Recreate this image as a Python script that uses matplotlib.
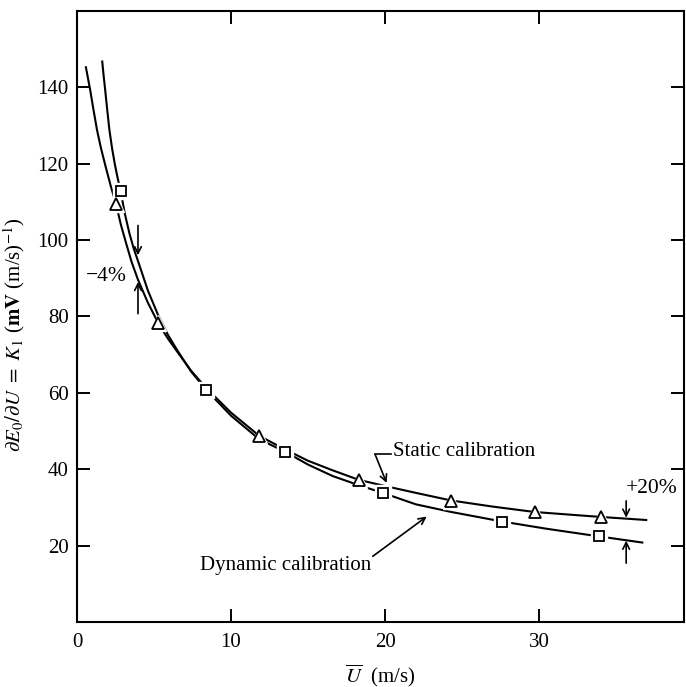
import matplotlib
matplotlib.use("Agg")
import matplotlib.pyplot as plt

plt.rcParams['font.family'] = ['Liberation Serif', 'DejaVu Serif']
plt.rcParams['mathtext.fontset'] = 'stix'

# measured points
static_u = [2.53, 5.28, 11.84, 18.3, 24.3, 29.7, 34.0]
static_k = [109.5, 78.2, 48.7, 37.2, 31.8, 28.8, 27.5]
dynamic_u = [2.84, 8.38, 13.5, 19.85, 27.6, 33.9]
dynamic_k = [112.7, 60.8, 44.6, 33.8, 26.3, 22.4]

# faired curves
static_curve_u = [0.58, 0.72, 0.86, 1.05, 1.3, 1.56, 1.86, 2.2, 2.53, 2.85, 3.2, 3.55, 3.96, 4.6,
                  5.28, 5.9, 6.5, 7.4, 8.4, 10.0, 11.84, 13.5, 15.0, 16.6, 18.3, 20.1, 22.0,
                  24.3, 27.0, 29.7, 32.0, 34.0, 36.95]
static_curve_k = [145.2, 142.2, 139.2, 134.6, 128.8, 124.0, 119.2, 114.0, 109.5, 104.0, 99.0, 94.2,
                  89.6, 83.6, 78.2, 74.2, 70.8, 65.8, 61.2, 54.8, 48.7, 45.2, 42.2, 39.7, 37.2,
                  35.5, 33.8, 31.8, 30.2, 28.8, 28.1, 27.5, 26.7]
dynamic_curve_u = [1.64, 1.73, 1.82, 1.96, 2.1, 2.27, 2.45, 2.64, 2.84, 3.1, 3.4, 3.68, 3.96, 4.6,
                   5.28, 5.9, 6.5, 7.4, 8.38, 10.0, 11.84, 13.5, 15.0, 16.6, 18.3, 19.85, 22.0,
                   24.3, 27.6, 30.5, 33.9, 36.7]
dynamic_curve_k = [146.7, 143.0, 139.7, 134.2, 129.0, 124.2, 120.0, 116.2, 112.7, 107.0, 101.8, 97.8,
                   94.5, 86.8, 80.2, 75.2, 71.2, 65.6, 60.8, 54.0, 47.8, 44.6, 41.2, 38.2, 35.8,
                   33.8, 30.8, 28.8, 26.3, 24.4, 22.4, 20.8]

fig = plt.figure(figsize=(6.86, 6.87), dpi=100)
ax = fig.add_axes([0.1122, 0.0946, 0.8848, 0.8898])

ax.plot(static_curve_u, static_curve_k, color='black', lw=1.5, zorder=2)
ax.plot(dynamic_curve_u, dynamic_curve_k, color='black', lw=1.5, zorder=2)

# white halo so the curves break around the symbols
ax.plot(static_u, static_k, ls='none', marker='^', ms=12, color='white', zorder=3)
ax.plot(dynamic_u, dynamic_k, ls='none', marker='s', ms=11, color='white', zorder=3)
ax.plot(static_u, static_k, ls='none', marker='^', ms=8, mfc='white', mec='black', mew=1.3, zorder=4)
ax.plot(dynamic_u, dynamic_k, ls='none', marker='s', ms=7.5, mfc='white', mec='black', mew=1.3, zorder=4)

ax.set_xlim(0, 39.4)
ax.set_ylim(0, 160)
ax.set_xticks([0, 10, 20, 30])
ax.set_yticks([20, 40, 60, 80, 100, 120, 140])
ax.tick_params(direction='in', length=9.5, width=1.4, labelsize=15, top=True, right=True)
ax.tick_params(axis='x', pad=8)
ax.tick_params(axis='y', pad=6)
for s in ax.spines.values():
    s.set_linewidth(1.5)

ax.set_xlabel(r'$\overline{U}$  (m/s)', fontsize=15)
ax.xaxis.set_label_coords(0.5, -0.066)
ax.set_ylabel(r'$\partial E_0/\partial U\ =\ \boldsymbol{K_1}$ ($\mathbf{mV}$ (m/s)$^{-1}$)', fontsize=15)
ax.yaxis.set_label_coords(-0.083, 0.47)

arr = dict(arrowstyle='->', lw=1.2, color='black', mutation_scale=12, shrinkA=0, shrinkB=0)

# -4 % bracket
ax.annotate('', xy=(3.96, 96.0), xytext=(3.96, 103.8), arrowprops=arr)
ax.annotate('', xy=(3.96, 89.0), xytext=(3.96, 80.7), arrowprops=arr)
ax.text(1.88, 90.5, '\u22124%', fontsize=15.5, ha='center', va='center')

# +20 % bracket
ax.annotate('', xy=(35.65, 27.3), xytext=(35.65, 31.7), arrowprops=arr)
ax.annotate('', xy=(35.65, 21.3), xytext=(35.65, 15.4), arrowprops=arr)
ax.text(37.3, 35.0, '+20%', fontsize=15.5, ha='center', va='center')

# labels
ax.text(20.5, 44.6, 'Static calibration', fontsize=15, ha='left', va='center')
ax.plot([19.35, 20.4], [43.9, 43.9], color='black', lw=1.2)
ax.annotate('', xy=(20.1, 36.4), xytext=(19.35, 43.9), arrowprops=arr)
ax.text(19.1, 14.8, 'Dynamic calibration', fontsize=15, ha='right', va='center')
ax.annotate('', xy=(22.7, 27.6), xytext=(19.2, 17.2), arrowprops=arr)

fig.savefig('out.png', dpi=100)
